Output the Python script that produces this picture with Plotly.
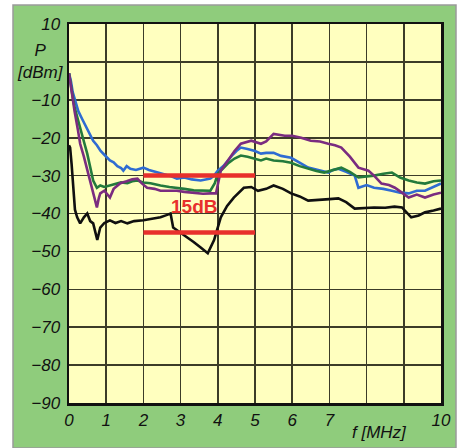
import plotly.graph_objects as go

# ---- data ----
blue_x = [0.0,0.05,0.1,0.16,0.25,0.35,0.45,0.57,0.65,0.75,0.85,0.95,1.1,1.2,1.3,1.4,1.46,1.55,1.65,1.8,2.0,2.15,2.3,2.46,2.6,2.75,2.9,3.1,3.3,3.54,3.7,3.8,3.9,4.0,4.15,4.27,4.4,4.5,4.62,4.8,5.0,5.16,5.3,5.5,5.7,5.97,6.2,6.43,6.7,6.97,7.1,7.24,7.45,7.68,7.78,8.0,8.2,8.45,8.68,8.9,9.13,9.35,9.57,9.8,10.0]
blue_y = [-3,-5,-8,-10,-13,-15,-17,-19,-20.8,-22,-23.5,-24.5,-26,-26.5,-27.5,-28,-28.7,-27.5,-28.2,-28.5,-27.9,-28.5,-29,-29.5,-29.8,-30.2,-30.8,-30.5,-31,-31.3,-31,-30.8,-30,-28.7,-27.5,-26,-24.5,-23.5,-22.6,-23,-23.5,-24.2,-24,-24,-24.8,-25.3,-26.5,-27.9,-28.5,-29.2,-28.5,-28.2,-29,-30,-33.2,-32.5,-33.2,-33.5,-34,-34.5,-34.7,-34,-34,-33,-32.1]

green_x = [0.0,0.04,0.08,0.15,0.24,0.3,0.4,0.49,0.58,0.65,0.75,0.84,0.95,1.1,1.25,1.4,1.57,1.7,1.84,2.0,2.19,2.3,2.46,2.7,2.9,3.1,3.35,3.6,3.8,3.92,4.0,4.15,4.27,4.45,4.62,4.8,5.0,5.16,5.3,5.5,5.75,5.97,6.2,6.43,6.65,6.86,7.1,7.32,7.55,7.78,8.0,8.2,8.45,8.68,8.9,9.13,9.35,9.57,9.8,10.0]
green_y = [-3,-6,-8,-12,-15,-17.4,-21,-24.2,-28,-31.3,-33.2,-32.6,-33,-32.6,-32,-31.8,-32,-31.5,-31.3,-31.8,-32,-32.3,-32.6,-33,-33.2,-33.5,-33.9,-34,-34,-32,-29.5,-28,-26.8,-25.5,-24.7,-25,-25.5,-26,-25.5,-26,-26.2,-26.6,-27.5,-28.2,-28.8,-29.2,-28.5,-27.9,-29,-30.5,-30.2,-30,-29.5,-29.2,-30.5,-31.3,-31.8,-32.1,-31.5,-31.3]

purple_x = [0.0,0.04,0.08,0.15,0.24,0.3,0.4,0.5,0.6,0.68,0.75,0.8,0.84,0.95,1.02,1.1,1.2,1.38,1.55,1.7,1.84,1.95,2.1,2.3,2.46,2.7,2.9,3.1,3.35,3.6,3.8,3.95,4.08,4.27,4.45,4.62,4.9,5.16,5.3,5.5,5.8,6.0,6.24,6.5,6.75,6.97,7.15,7.32,7.55,7.78,8.05,8.2,8.4,8.6,8.76,8.95,9.13,9.35,9.57,9.8,10.0]
purple_y = [-3,-6,-8,-13,-18,-21.6,-25,-29,-33,-36,-38.4,-36,-34.7,-34,-35,-35.8,-33.5,-32,-31.5,-31,-30.8,-32,-33.2,-33.5,-34,-34,-34,-34.3,-34.5,-34.8,-34.7,-34.7,-28.7,-26,-23.5,-21.6,-20.8,-21.6,-21,-19,-19.5,-19.5,-20,-20.8,-21,-21.6,-22,-22.6,-25,-27.9,-28.7,-30,-32.1,-32.5,-33.2,-34.5,-35.8,-35,-35.8,-35,-34.5]

black_x = [0.0,0.03,0.07,0.1,0.16,0.22,0.3,0.4,0.49,0.57,0.65,0.76,0.84,0.95,1.1,1.25,1.4,1.57,1.75,2.0,2.2,2.46,2.6,2.73,2.8,3.0,3.19,3.35,3.54,3.73,3.9,4.0,4.08,4.25,4.43,4.7,4.9,5.08,5.3,5.5,5.75,5.97,6.2,6.43,6.7,7.0,7.24,7.45,7.68,7.9,8.2,8.5,8.75,8.95,9.2,9.4,9.57,9.8,10.0]
black_y = [-22,-22.6,-27,-30.5,-39,-41,-42.6,-41,-40,-42,-42.6,-47,-43.7,-42.5,-41.8,-42.5,-42,-42.6,-42,-41.8,-41.5,-41,-40.5,-40,-43.7,-45,-46.3,-47.5,-49,-50.5,-47,-44,-41,-38,-35.8,-33.2,-33,-34,-33.5,-32.6,-33.5,-34.7,-35.5,-36.6,-36.5,-36.2,-36,-37,-38.7,-38.5,-38.4,-38.5,-38.2,-38.4,-41,-40.5,-39.7,-39.2,-38.7]

ref_x = [2, 5]
ref_upper = -30
ref_lower = -45
ref_label = "15dB"

x_tickvals = [0, 1, 2, 3, 4, 5, 6, 7, 10]
x_ticktext = ["0", "1", "2", "3", "4", "5", "6", "7", "10"]
y_tickvals = [10, -10, -20, -30, -40, -50, -60, -70, -80, -90]
y_ticktext = ["10", "\u221210", "\u221220", "\u221230", "\u221240", "\u221250", "\u221260", "\u221270", "\u221280", "\u221290"]

FONT = "Liberation Sans"
tickfont = dict(family=FONT, size=17, color="#111111", style="italic")
GRID = "#3c3c28"
GW = 1.6

fig = go.Figure()
for xs, ys, col in [(blue_x, blue_y, "#2f6cd2"), (green_x, green_y, "#237a3c"),
                    (purple_x, purple_y, "#7a2c80"), (black_x, black_y, "#101010")]:
    fig.add_trace(go.Scatter(x=xs, y=ys, mode="lines",
                             line=dict(color=col, width=2.6), hoverinfo="skip"))
for lvl in (ref_upper, ref_lower):
    fig.add_trace(go.Scatter(x=ref_x, y=[lvl, lvl], mode="lines",
                             line=dict(color="#e8302c", width=4.5), hoverinfo="skip"))

W, H = 462, 448
L, R, T, B = 69, 21, 24, 45
pw, ph = W - L - R, H - T - B

def px(xp):
    return (xp - L) / pw

def py(yp):
    return (H - B - yp) / ph

fig.add_shape(type="rect", xref="paper", yref="paper",
              x0=px(13), x1=px(456), y0=py(448), y1=py(5),
              fillcolor="#8fcc7c", line=dict(color="#9a9a9a", width=1.5), layer="below")
fig.add_shape(type="rect", xref="paper", yref="paper",
              x0=0, x1=1, y0=0, y1=1,
              fillcolor="#ffffbf", line=dict(width=0), layer="below")

fig.add_annotation(x=px(40), y=0, xref="paper", yref="y", text="P<br>[dBm]",
                   showarrow=False, font=tickfont, align="center",
                   xanchor="center", yanchor="middle")
fig.add_annotation(x=8.35, y=py(432), xref="x", yref="paper", text="f [MHz]",
                   showarrow=False, font=tickfont, xanchor="center", yanchor="middle")
fig.add_annotation(x=3.35, y=-38.2, xref="x", yref="y", text="<b>" + ref_label + "</b>",
                   showarrow=False, font=dict(family=FONT, size=19, color="#e8302c"),
                   xanchor="center", yanchor="middle")

fig.update_layout(
    width=W, height=H,
    margin=dict(l=L, r=R, t=T, b=B, autoexpand=False),
    paper_bgcolor="white", plot_bgcolor="rgba(0,0,0,0)",
    showlegend=False,
)
fig.update_xaxes(range=[0, 10], tickvals=x_tickvals, ticktext=x_ticktext, automargin=False,
                 tickfont=tickfont, showgrid=True, gridcolor=GRID, gridwidth=GW,
                 showline=True, linecolor="#111111", linewidth=2.5, mirror=True,
                 zeroline=False, ticks="", ticklabelstandoff=0)
fig.update_yaxes(range=[-90, 10], tickvals=y_tickvals, ticktext=y_ticktext, automargin=False,
                 tickfont=tickfont, showgrid=True, gridcolor=GRID, gridwidth=GW,
                 showline=True, linecolor="#111111", linewidth=2.5, mirror=True,
                 zeroline=False, ticks="", ticklabelstandoff=3)
# grid lines at unlabeled positions (8, 9 MHz and 0 dBm)
fig.update_xaxes(minor=dict(tickvals=[8, 9], showgrid=True, gridcolor=GRID, gridwidth=GW))
fig.update_yaxes(minor=dict(tickvals=[0], showgrid=True, gridcolor=GRID, gridwidth=GW))

fig.write_html("out.html", config={"displayModeBar": False, "staticPlot": True},
               post_script="document.body.style.margin='0';document.body.style.overflow='hidden';")
